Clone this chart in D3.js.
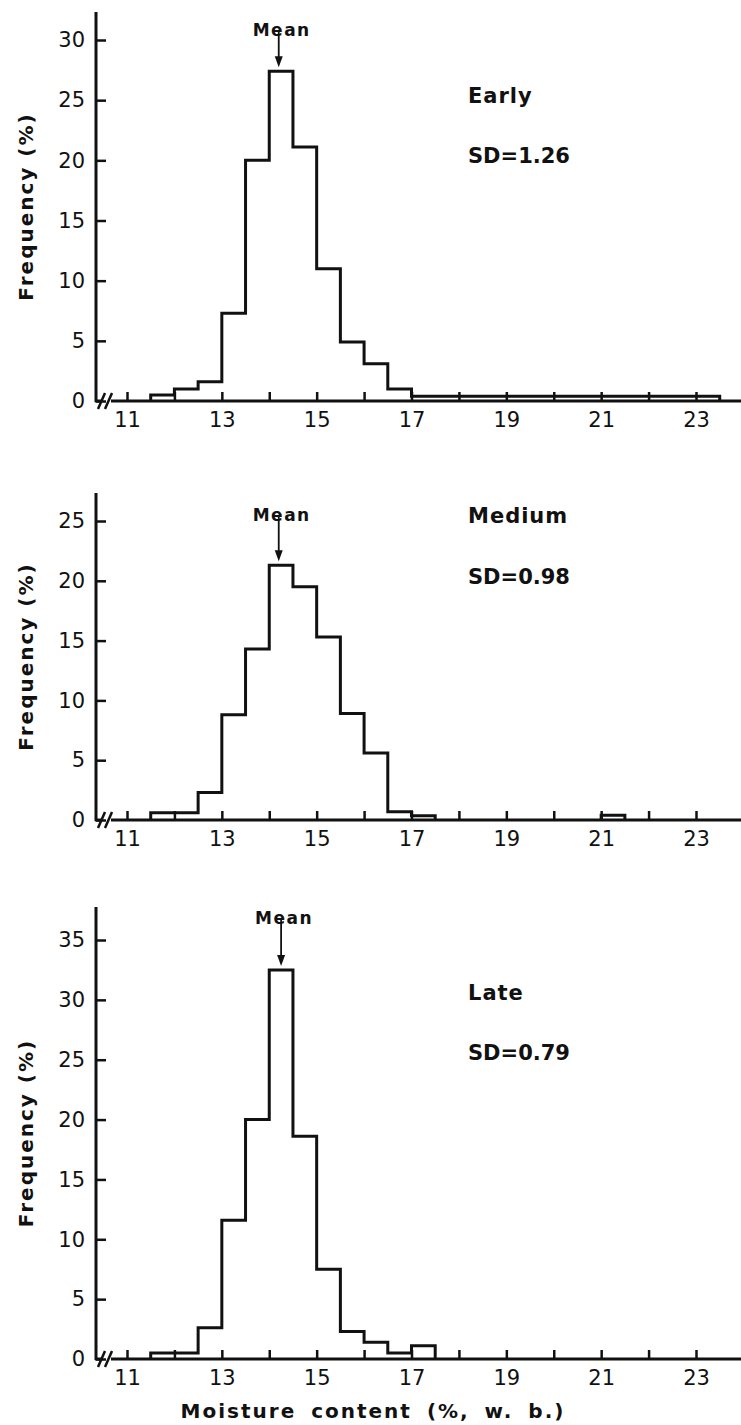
<!DOCTYPE html>
<html>
<head>
<meta charset="utf-8">
<script src="https://cdn.jsdelivr.net/npm/d3@7"></script>
<style>
  body { margin: 0; background: #fff; }
  svg { display: block; }
  text { font-family: "DejaVu Sans", "Liberation Sans", Arial, sans-serif; fill: #111; }
</style>
</head>
<body>
<div id="chart"></div>
<script>
// histogram bins, 0.5 % wide, left edges
var binStart = d3.range(11.5, 23.5, 0.5);

// frequency (%) for each bin
var earlyFreq  = [0.5, 1.0, 1.6, 7.3, 20.0, 27.4, 21.1, 11.0, 4.9, 3.1, 1.0,
                  0.4, 0.4, 0.4, 0.4, 0.4, 0.4, 0.4, 0.4, 0.4, 0.4, 0.4, 0.4, 0.4];
var mediumFreq = [0.6, 0.6, 2.3, 8.8, 14.3, 21.3, 19.5, 15.3, 8.9, 5.6, 0.7,
                  0.35, 0, 0, 0, 0, 0, 0, 0, 0.4, 0, 0, 0, 0];
var lateFreq   = [0.5, 0.5, 2.6, 11.6, 20.0, 32.5, 18.6, 7.5, 2.3, 1.4, 0.5,
                  1.1, 0, 0, 0, 0, 0, 0, 0, 0, 0, 0, 0, 0];

var panelNames = ["Early", "Medium", "Late"];
var sdValues = ["1.26", "0.98", "0.79"];
var meanValues = [14.2, 14.2, 14.25];
var yTicks = [d3.range(0, 31, 5), d3.range(0, 26, 5), d3.range(0, 36, 5)];
var xTicks = d3.range(11, 24, 1);

var svgWidth = 741;
var svgHeight = 1425;

var svg = d3.select("#chart")
  .append("svg")
  .attr("width", svgWidth)
  .attr("height", svgHeight);

// layout of each panel: top of y axis line, pixel of y=0, pixel of top tick
var layout = [
  { axisTop: 12,  zero: 401,  topTick: 40,  meanY: 36,  labelY: 103,  sdY: 163 },
  { axisTop: 493, zero: 820,  topTick: 521, meanY: 521, labelY: 523,  sdY: 584 },
  { axisTop: 907, zero: 1359, topTick: 940, meanY: 924, labelY: 1000, sdY: 1060 }
];
var seriesList = [earlyFreq, mediumFreq, lateFreq];

var axisX = 96;
var xScale = d3.scaleLinear()
  .domain([11, 23])
  .range([127, 696]);

layout.forEach(function(L, i) {
  var g = svg.append("g");
  var yMaxTick = d3.max(yTicks[i]);

  var yScale = d3.scaleLinear()
    .domain([0, yMaxTick])
    .range([L.zero, L.topTick]);

  // split non-zero bins into runs and draw each run as a step outline
  var runs = [];
  var cur = null;
  binStart.forEach(function(b, j) {
    var v = seriesList[i][j];
    if (v > 0) {
      if (!cur) { cur = []; runs.push(cur); }
      cur.push({ x0: b, x1: b + 0.5, v: v });
    } else {
      cur = null;
    }
  });

  var stepLine = d3.line()
    .x(d => xScale(d[0]))
    .y(d => yScale(d[1]));

  g.selectAll("path.hist")
    .data(runs)
    .enter()
    .append("path")
    .attr("class", "hist")
    .attr("d", function(run) {
      var pts = [[run[0].x0, 0]];
      run.forEach(function(d) { pts.push([d.x0, d.v]); pts.push([d.x1, d.v]); });
      pts.push([run[run.length - 1].x1, 0]);
      return stepLine(pts);
    })
    .attr("fill", "none")
    .attr("stroke", "#111")
    .attr("stroke-width", 3)
    .attr("stroke-linejoin", "miter");

  // y axis
  var leftAxis = d3.axisLeft(yScale)
    .tickValues(yTicks[i])
    .tickSizeInner(-10)
    .tickSizeOuter(0)
    .tickPadding(11);

  var yAxis = g.append("g")
    .attr("transform", `translate(${axisX}, 0)`)
    .call(leftAxis);
  yAxis.select(".domain").remove();
  yAxis.selectAll("line").attr("stroke", "#111").attr("stroke-width", 2.5);
  yAxis.selectAll("text")
    .attr("font-size", "21px")
    .attr("font-family", "DejaVu Sans")
    .attr("fill", "#111");

  g.append("line")
    .attr("x1", axisX).attr("x2", axisX)
    .attr("y1", L.axisTop).attr("y2", L.zero + 1)
    .attr("stroke", "#111").attr("stroke-width", 3);

  // x axis
  var bottomAxis = d3.axisBottom(xScale)
    .tickValues(xTicks)
    .tickSizeInner(-9)
    .tickSizeOuter(0)
    .tickPadding(11)
    .tickFormat(d => d % 2 ? d : "");

  var xAxis = g.append("g")
    .attr("transform", `translate(0, ${L.zero})`)
    .call(bottomAxis);
  xAxis.select(".domain").remove();
  xAxis.selectAll("line").attr("stroke", "#111").attr("stroke-width", 2.5);
  xAxis.selectAll("text")
    .attr("font-size", "21px")
    .attr("font-family", "DejaVu Sans")
    .attr("fill", "#111");

  // axis line with break
  g.append("line")
    .attr("x1", axisX - 1).attr("x2", 102)
    .attr("y1", L.zero).attr("y2", L.zero)
    .attr("stroke", "#111").attr("stroke-width", 3);
  g.append("line")
    .attr("x1", 111).attr("x2", svgWidth)
    .attr("y1", L.zero).attr("y2", L.zero)
    .attr("stroke", "#111").attr("stroke-width", 3);
  [101, 108].forEach(function(sx) {
    g.append("line")
      .attr("x1", sx - 3).attr("x2", sx + 4)
      .attr("y1", L.zero + 8).attr("y2", L.zero - 8)
      .attr("stroke", "#111").attr("stroke-width", 2.5);
  });

  // y axis title
  var midY = (L.axisTop + L.zero) / 2;
  g.append("text")
    .attr("transform", `translate(33, ${midY}) rotate(-90)`)
    .attr("text-anchor", "middle")
    .attr("font-size", "20px")
    .attr("font-weight", "bold")
    .attr("letter-spacing", "2px")
    .text("Frequency (%)");

  // mean arrow
  var mx = xScale(meanValues[i]);
  var barIdx = binStart.findIndex(b => meanValues[i] >= b && meanValues[i] < b + 0.5);
  var barTop = yScale(seriesList[i][barIdx]);
  g.append("text")
    .attr("x", mx + 3)
    .attr("y", L.meanY)
    .attr("text-anchor", "middle")
    .attr("font-size", "17px")
    .attr("font-weight", "bold")
    .attr("letter-spacing", "1.5px")
    .text("Mean");
  g.append("line")
    .attr("x1", mx).attr("x2", mx)
    .attr("y1", L.meanY - 6).attr("y2", barTop - 10)
    .attr("stroke", "#111").attr("stroke-width", 1.8);
  g.append("path")
    .attr("d", `M${mx - 4},${barTop - 15}L${mx + 4},${barTop - 15}L${mx},${barTop - 4}Z`)
    .attr("fill", "#111");

  // panel label and SD
  g.append("text")
    .attr("x", 468)
    .attr("y", L.labelY)
    .attr("font-size", "21px")
    .attr("font-weight", "bold")
    .attr("letter-spacing", "1px")
    .text(panelNames[i]);
  g.append("text")
    .attr("x", 468)
    .attr("y", L.sdY)
    .attr("font-size", "21px")
    .attr("font-weight", "bold")
    .text("SD=" + sdValues[i]);
});

svg.append("text")
  .attr("x", 373)
  .attr("y", 1418)
  .attr("text-anchor", "middle")
  .attr("font-size", "20px")
  .attr("font-weight", "bold")
  .attr("letter-spacing", "2px")
  .attr("word-spacing", "6px")
  .text("Moisture content (%, w. b.)");
</script>
</body>
</html>
